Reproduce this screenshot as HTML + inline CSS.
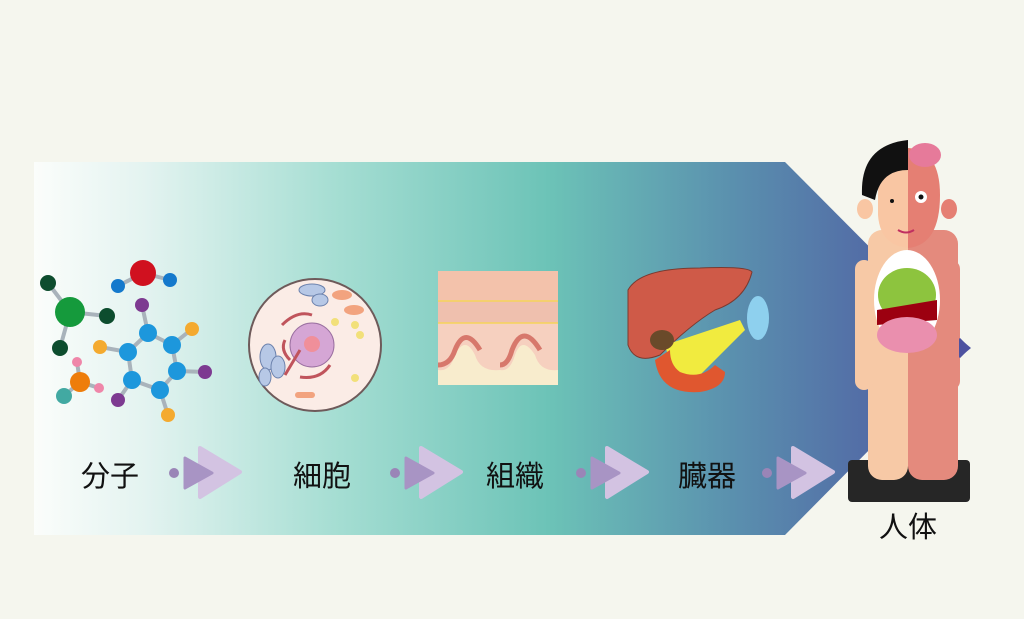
<!DOCTYPE html>
<html><head><meta charset="utf-8"><style>
body{margin:0;background:#f5f6ee;}
svg{display:block}
text{font-family:"Liberation Sans","Noto Sans CJK JP",sans-serif;font-size:29px;fill:#111}
</style></head><body>
<svg width="1024" height="619" viewBox="0 0 1024 619" xmlns="http://www.w3.org/2000/svg">
<defs>
<linearGradient id="g" x1="34" y1="0" x2="970" y2="0" gradientUnits="userSpaceOnUse">
<stop offset="0" stop-color="#fbfdfb"/>
<stop offset="0.12" stop-color="#e3f3f0"/>
<stop offset="0.32" stop-color="#a6ded3"/>
<stop offset="0.55" stop-color="#6cc3b7"/>
<stop offset="0.75" stop-color="#5a8fae"/>
<stop offset="1" stop-color="#4d52a0"/>
</linearGradient>
<g id="chev">
<circle cx="0" cy="473" r="5" fill="#9a85b7"/>
<path d="M26 448 L66 472 L26 497 Z" fill="#d3c3e2" stroke="#d3c3e2" stroke-width="4" stroke-linejoin="round"/>
<path d="M11 458 L38 473 L11 488 Z" fill="#a894c4" stroke="#a894c4" stroke-width="3" stroke-linejoin="round"/>
</g>
</defs>
<rect width="1024" height="619" fill="#f5f6ee"/>
<path d="M34 162 L785 162 L970 348 L785 535 L34 535 Z" fill="url(#g)"/>

<!-- molecule -->
<g stroke="#a9b3bb" stroke-width="4">
<line x1="70" y1="312" x2="48" y2="283"/><line x1="70" y1="312" x2="107" y2="316"/><line x1="70" y1="312" x2="60" y2="348"/>
<line x1="143" y1="273" x2="118" y2="286"/><line x1="143" y1="273" x2="170" y2="280"/>
<path d="M148 333 L172 345 L177 371 L160 390 L132 380 L128 352 Z" fill="none"/>
<line x1="148" y1="333" x2="142" y2="305"/><line x1="177" y1="371" x2="205" y2="372"/><line x1="132" y1="380" x2="118" y2="400"/>
<line x1="172" y1="345" x2="192" y2="329"/><line x1="128" y1="352" x2="100" y2="347"/><line x1="160" y1="390" x2="168" y2="415"/>
<line x1="80" y1="382" x2="77" y2="362"/><line x1="80" y1="382" x2="99" y2="388"/><line x1="80" y1="382" x2="64" y2="396"/>
</g>
<g>
<circle cx="70" cy="312" r="15" fill="#159a3c"/>
<circle cx="48" cy="283" r="8" fill="#0d4d2e"/><circle cx="107" cy="316" r="8" fill="#0d4d2e"/><circle cx="60" cy="348" r="8" fill="#0d4d2e"/>
<circle cx="143" cy="273" r="13" fill="#d0111f"/><circle cx="118" cy="286" r="7" fill="#1479cc"/><circle cx="170" cy="280" r="7" fill="#1479cc"/>
<g fill="#1d97dc"><circle cx="148" cy="333" r="9"/><circle cx="172" cy="345" r="9"/><circle cx="177" cy="371" r="9"/><circle cx="160" cy="390" r="9"/><circle cx="132" cy="380" r="9"/><circle cx="128" cy="352" r="9"/></g>
<g fill="#7d3a91"><circle cx="142" cy="305" r="7"/><circle cx="205" cy="372" r="7"/><circle cx="118" cy="400" r="7"/></g>
<g fill="#f4aa2f"><circle cx="192" cy="329" r="7"/><circle cx="100" cy="347" r="7"/><circle cx="168" cy="415" r="7"/></g>
<circle cx="80" cy="382" r="10" fill="#ee7d0b"/><circle cx="77" cy="362" r="5" fill="#ef86a9"/><circle cx="99" cy="388" r="5" fill="#ef86a9"/><circle cx="64" cy="396" r="8" fill="#42a9a2"/>
</g>

<!-- cell -->
<circle cx="315" cy="345" r="66" fill="#fbece6" stroke="#6e5a5a" stroke-width="2"/>
<circle cx="312" cy="345" r="22" fill="#d5a6d5" stroke="#9a6fa0"/>
<circle cx="312" cy="344" r="8" fill="#f08f9a"/>
<g fill="#b7c8e6" stroke="#6c82ad"><ellipse cx="312" cy="290" rx="13" ry="6"/><ellipse cx="268" cy="357" rx="8" ry="13"/><ellipse cx="278" cy="367" rx="7" ry="11"/><ellipse cx="265" cy="377" rx="6" ry="9"/><ellipse cx="320" cy="300" rx="8" ry="6"/></g>
<g fill="#f2a37f"><ellipse cx="342" cy="295" rx="10" ry="5"/><ellipse cx="354" cy="310" rx="10" ry="5"/><rect x="295" y="392" width="20" height="6" rx="3"/></g>
<g fill="#f2e07a"><circle cx="335" cy="322" r="4"/><circle cx="355" cy="325" r="4"/><circle cx="360" cy="335" r="4"/><circle cx="355" cy="378" r="4"/></g>
<path d="M282 325 q15 -15 30 -10 M285 340 q-5 10 5 20 M330 365 q-10 15 -30 12 M285 375 l15 -25" stroke="#c0545c" stroke-width="3" fill="none"/>

<!-- tissue -->
<rect x="438" y="271" width="120" height="114" fill="#f6d0bf"/>
<rect x="438" y="271" width="120" height="30" fill="#f3c2ab"/>
<rect x="438" y="301" width="120" height="22" fill="#efc0ae"/>
<line x1="438" y1="301" x2="558" y2="301" stroke="#f6d45a" stroke-width="1.5"/>
<line x1="438" y1="323" x2="558" y2="323" stroke="#f6d45a" stroke-width="1.5"/>
<path d="M438 385 L438 370 Q450 372 455 355 Q465 335 475 355 Q480 372 500 370 Q510 372 515 355 Q522 335 535 355 Q540 372 558 370 L558 385 Z" fill="#f8eccd"/>
<path d="M438 365 Q450 365 455 350 Q465 325 480 350 M500 365 Q508 365 512 350 Q523 322 540 350" stroke="#d7786c" stroke-width="5" fill="none"/>

<!-- organs -->
<path d="M628 290 Q640 268 700 268 Q748 266 752 272 Q745 300 715 310 Q690 325 660 355 Q635 365 628 345 Z" fill="#cf5a48" stroke="#7a3a30"/>
<ellipse cx="758" cy="318" rx="11" ry="22" fill="#8ed0ee"/>
<path d="M665 345 L740 320 L745 330 L700 375 L675 380 Z" fill="#f1eb3f"/>
<path d="M655 360 Q660 395 700 392 Q725 388 725 372 L715 365 Q700 380 680 372 Q670 365 670 350 Z" fill="#e0572f"/>
<ellipse cx="662" cy="340" rx="12" ry="10" fill="#6a4a2a"/>

<!-- human -->
<rect x="848" y="460" width="122" height="42" rx="4" fill="#262626"/>
<rect x="868" y="230" width="40" height="250" rx="14" fill="#f7c9a6"/>
<rect x="908" y="230" width="50" height="250" rx="14" fill="#e48a7d"/>
<rect x="855" y="260" width="18" height="130" rx="9" fill="#f7c9a6"/>
<rect x="942" y="260" width="18" height="130" rx="9" fill="#e48a7d"/>
<path d="M959 338 L971 348 L959 358 Z" fill="#4d52a0"/>
<ellipse cx="907" cy="300" rx="33" ry="50" fill="#fff"/>
<ellipse cx="907" cy="295" rx="29" ry="27" fill="#8dc43e"/>
<path d="M877 310 L937 300 L937 320 L877 325 Z" fill="#9c0010"/>
<ellipse cx="907" cy="335" rx="30" ry="18" fill="#ea8fae"/>
<path d="M878 195 Q878 150 908 148 L908 248 Q880 245 878 215 Z" fill="#f9c6a3"/>
<path d="M908 148 Q940 150 940 195 Q940 245 908 248 Z" fill="#e57f73"/>
<path d="M862 195 Q860 145 908 140 L908 170 Q880 170 875 200 Z" fill="#111"/>
<ellipse cx="925" cy="155" rx="16" ry="12" fill="#e67a9a"/>
<circle cx="921" cy="197" r="6" fill="#fff"/><circle cx="921" cy="197" r="2.5" fill="#111"/>
<circle cx="892" cy="201" r="2" fill="#111"/>
<ellipse cx="865" cy="209" rx="8" ry="10" fill="#f9c6a3"/><ellipse cx="949" cy="209" rx="8" ry="10" fill="#e57f73"/>
<path d="M898 230 q8 5 16 0" stroke="#c03060" stroke-width="2" fill="none"/>

<use href="#chev" x="174"/>
<use href="#chev" x="395"/>
<use href="#chev" x="581"/>
<use href="#chev" x="767"/>

<text x="110" y="486" text-anchor="middle">分子</text>
<text x="322" y="486" text-anchor="middle">細胞</text>
<text x="515" y="486" text-anchor="middle">組織</text>
<text x="707" y="486" text-anchor="middle">臓器</text>
<text x="908" y="537" text-anchor="middle">人体</text>
</svg>
</body></html>
